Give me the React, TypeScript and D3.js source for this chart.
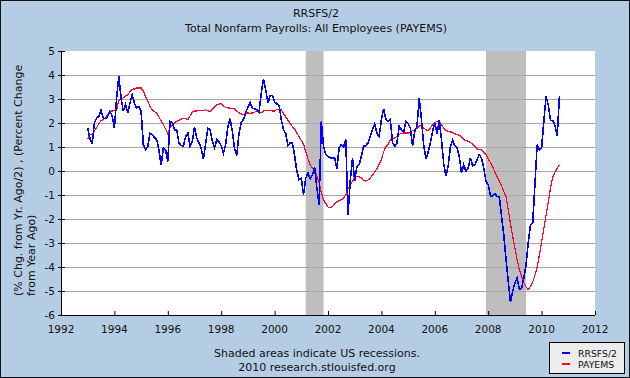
import React from "react";
import * as d3 from "d3";

const W = 630;
const H = 378;

// monthly values starting Jan 1993
const startYear = 1993;
const rrsfsHalf = [
  1.79, 1.35, 1.12, 2.0, 2.2, 2.28, 2.53, 2.2, 2.19, 2.28, 2.49, 2.3,
  1.79, 3.04, 3.94, 3.04, 2.49, 2.76, 2.42, 2.83, 3.18, 2.83, 2.62, 2.69,
  2.49, 1.1, 0.89, 1.03, 1.56, 1.51, 1.4, 1.31, 0.89, 0.25, 0.96, 0.89,
  0.4, 2.07, 2.0, 1.72, 1.72, 1.17, 1.07, 1.03, 1.44, 1.58, 1.03, 1.24,
  1.83, 1.38, 1.17, 0.96, 0.5, 1.14, 1.79, 1.72, 1.24, 0.96, 1.31, 1.21,
  1.06, 0.75, 1.1, 1.86, 2.18, 1.65, 0.92, 0.65, 1.56, 2.04, 2.14, 2.42,
  2.65, 2.86, 2.62, 2.58, 2.56, 2.44, 3.25, 3.83, 3.39, 2.83, 3.14, 3.14,
  2.88, 2.8, 2.74, 2.14, 1.72, 1.56, 1.06, 1.17, 1.17, 0.64, -0.01, -0.36,
  -0.29, -0.99, -0.29, -0.08, -0.33, -0.15, 0.15, -0.71, -1.4, 2.07, 1.03, 0.68,
  0.61, 0.54, 0.54, 0.54, 0.1, 0.96, 1.1, 1.0, 1.31, -1.82, -0.4, 0.54,
  -0.4, 0.19, 0.26, 0.61, 1.03, 1.06, 1.17, 1.44, 1.72, 1.97, 1.56, 1.44,
  2.14, 2.58, 2.17, 2.07, 2.14, 1.17, 1.03, 1.17, 1.86, 1.72, 1.61, 2.07,
  1.97, 1.79, 1.06, 1.65, 1.86, 3.04, 2.14, 1.1, 0.51, 0.78, 1.17, 1.65,
  2.0, 1.56, 2.11, 1.31, 0.31, -0.22, 0.19, 1.0, 1.28, 1.06, 0.96, 0.61,
  -0.08, 0.26, -0.01, 0.13, 0.54, 0.22, 0.26, 0.47, 0.68, 0.54, 0.13, -0.43,
  -0.57, -1.03, -1.03, -0.94, -1.06, -1.08, -1.89, -2.65, -3.67, -4.6, -5.45, -5.0,
  -4.67, -4.46, -4.92, -4.89, -4.46, -3.9, -3.0, -2.24, -2.17, -0.57, 1.1, 0.89,
  0.96, 2.07, 3.11, 2.76, 2.11, 2.11, 1.9, 1.45, 3.11,
];
const payems = [
  1.31, 1.54, 1.51, 1.68, 1.8, 1.98, 2.1, 2.14, 2.22, 2.35, 2.49, 2.5,
  2.52, 2.53, 2.95, 3.0, 3.05, 3.12, 3.18, 3.3, 3.4, 3.42, 3.46, 3.46,
  3.46, 3.33, 3.1, 2.92, 2.68, 2.55, 2.47, 2.42, 2.25, 2.09, 1.93, 1.75,
  1.55, 1.79, 1.9, 2.0, 2.07, 2.12, 2.16, 2.2, 2.18, 2.14, 2.3, 2.45,
  2.5, 2.5, 2.52, 2.53, 2.52, 2.55, 2.5, 2.49, 2.58, 2.66, 2.75, 2.78,
  2.81, 2.7, 2.65, 2.63, 2.62, 2.6, 2.58, 2.5, 2.42, 2.38, 2.35, 2.4,
  2.42, 2.4, 2.42, 2.45, 2.5, 2.48, 2.42, 2.5, 2.51, 2.53, 2.52, 2.5,
  2.5, 2.56, 2.55, 2.54, 2.4, 2.25, 2.12, 1.98, 1.85, 1.75, 1.58, 1.42,
  1.28, 1.12, 0.8, 0.5, 0.25, 0.12, 0.03, -0.2, -0.5, -0.9, -1.2, -1.35,
  -1.5, -1.54, -1.48, -1.38, -1.28, -1.24, -1.2, -1.12, -1.0, -0.75, -0.58, -0.43,
  -0.28, -0.22, -0.25, -0.29, -0.4, -0.42, -0.38, -0.3, -0.16, -0.05, 0.1, 0.3,
  0.47, 0.8, 1.0, 1.1, 1.28, 1.33, 1.38, 1.45, 1.52, 1.57, 1.58, 1.58,
  1.58, 1.63, 1.68, 1.72, 1.77, 1.86, 1.93, 1.79, 1.72, 1.69, 1.8, 1.92,
  2.0, 2.08, 2.05, 1.93, 1.78, 1.7, 1.66, 1.63, 1.61, 1.56, 1.52, 1.48,
  1.44, 1.3, 1.26, 1.24, 1.18, 1.12, 1.02, 0.92, 0.9, 0.87, 0.78, 0.68,
  0.5, 0.35, 0.19, -0.05, -0.25, -0.43, -0.62, -0.85, -1.06, -1.6, -2.2, -2.72,
  -3.2, -3.7, -4.11, -4.4, -4.65, -4.83, -4.94, -4.81, -4.62, -4.35, -4.0, -3.5,
  -2.95, -2.4, -1.85, -1.3, -0.7, -0.25, -0.05, 0.12, 0.26,
];

const yTicks = [-6, -5, -4, -3, -2, -1, 0, 1, 2, 3, 4, 5];
const xTicks = [1992, 1994, 1996, 1998, 2000, 2002, 2004, 2006, 2008, 2010, 2012];
const recessions = [
  [2001 + 2 / 12, 2001 + 10 / 12],
  [2007 + 11 / 12, 2009 + 5 / 12],
];

const titleLines = ["RRSFS/2", "Total Nonfarm Payrolls: All Employees (PAYEMS)"];
const yLabelLines = ["(% Chg. from Yr. Ago/2) , (Percent Change", "from Year Ago)"];
const footerLines = ["Shaded areas indicate US recessions.", "2010 research.stlouisfed.org"];
const legendItems = [
  { name: "RRSFS/2", color: "#0000ff" },
  { name: "PAYEMS", color: "#ff0033" },
];

const FONT = "DejaVu Sans, Verdana, sans-serif";

export default function App() {
  const left = 61, right = 595, top = 51, bottom = 315;
  const x = d3.scaleLinear().domain([1992, 2012]).range([left, right]);
  const y = d3.scaleLinear().domain([-6, 5]).range([bottom, top]);
  const line = d3
    .line<number>()
    .x((_, i) => x(startYear + i / 12))
    .y((d) => y(d));

  return (
    <svg
      width={W}
      height={H}
      style={{ position: "absolute", left: 0, top: 0, display: "block" }}
      fontFamily={FONT}
    >
      <rect x={0.5} y={0.5} width={W - 1} height={H - 1} fill="#b4cde4" stroke="#111" />
      {titleLines.map((t, i) => (
        <text key={t} x={316} y={17 + i * 15} textAnchor="middle" fontSize={11} fill="#111">
          {t}
        </text>
      ))}
      <rect x={left} y={top} width={right - left} height={bottom - top} fill="#fff" />
      {recessions.map(([a, b], i) => (
        <rect key={i} x={x(a)} y={top} width={x(b) - x(a)} height={bottom - top} fill="#bebebe" />
      ))}
      {yTicks
        .filter((t) => t > -6 && t < 5)
        .map((t) => (
          <line key={t} x1={left} x2={right} y1={y(t) + 0.5} y2={y(t) + 0.5} stroke="#a6a6a6" strokeWidth={1} />
        ))}
      <path d={line(payems) || ""} fill="none" stroke="#ff0033" strokeWidth={1.2} shapeRendering="crispEdges" />
      <path d={line(rrsfsHalf) || ""} fill="none" stroke="#0000ff" strokeWidth={1.6} shapeRendering="crispEdges" />
      <line x1={left + 0.5} x2={left + 0.5} y1={top} y2={bottom} stroke="#000" />
      <line x1={left} x2={right} y1={bottom + 0.5} y2={bottom + 0.5} stroke="#000" />
      {yTicks.map((t) => (
        <g key={t}>
          <line x1={left - 3} x2={left + 4} y1={y(t) + 0.5} y2={y(t) + 0.5} stroke="#000" />
          <text x={55} y={y(t)} dy="0.36em" textAnchor="end" fontSize={10.5} fill="#111">
            {t}
          </text>
        </g>
      ))}
      {xTicks.map((t) => (
        <g key={t}>
          <line x1={x(t) + 0.5} x2={x(t) + 0.5} y1={bottom - 4} y2={bottom} stroke="#000" />
          <text x={x(t)} y={333} textAnchor="middle" fontSize={10.5} fill="#111">
            {t}
          </text>
        </g>
      ))}
      {yLabelLines.map((t, i) => (
        <text
          key={t}
          transform={`translate(${22 + i * 13},296) rotate(-90)`}
          textAnchor="start"
          fontSize={11}
          fill="#111"
        >
          {t}
        </text>
      ))}
      {footerLines.map((t, i) => (
        <text key={t} x={317} y={357 + i * 14} textAnchor="middle" fontSize={11} fill="#111">
          {t}
        </text>
      ))}
      <rect x={549.5} y={342.5} width={75} height={31} fill="#ececec" stroke="#000" />
      {legendItems.map((it, i) => (
        <g key={it.name}>
          <line x1={562} x2={570} y1={353 + i * 11} y2={353 + i * 11} stroke={it.color} strokeWidth={2} />
          <text x={578} y={356.5 + i * 11} fontSize={9.3} fill="#111">
            {it.name}
          </text>
        </g>
      ))}
    </svg>
  );
}
